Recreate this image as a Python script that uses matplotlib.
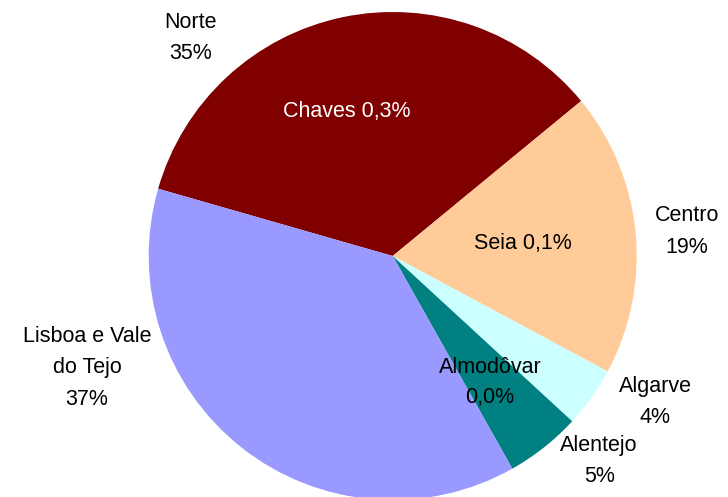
import matplotlib
matplotlib.use("Agg")
import matplotlib.pyplot as plt

plt.rcParams["font.family"] = ["Liberation Sans", "DejaVu Sans"]

regions = ["Norte", "Centro", "Algarve", "Alentejo", "Lisboa e Vale\ndo Tejo"]
shares = [34.6, 18.8, 4.0, 5.0, 37.6]
share_labels = ["35%", "19%", "4%", "5%", "37%"]
colors = ["#800000", "#FFCC99", "#CCFFFF", "#008080", "#9999FF"]

# municipalities shown inside the slices
towns = ["Chaves 0,3%", "Seia 0,1%", "Almodôvar\n0,0%"]
town_colors = ["white", "black", "black"]

W, H = 728, 497
cx, cy, R = 392.7, 256.0, 244.0

fig = plt.figure(figsize=(W / 100, H / 100), dpi=100)
ax = fig.add_axes([0, 0, 1, 1])
ax.pie(shares, colors=colors, startangle=164, counterclock=False,
       wedgeprops=dict(linewidth=0))
ax.set_xlim(-cx / R, (W - cx) / R)
ax.set_ylim(-(H - cy) / R, cy / R)
ax.axis("off")

label_pos = [(-0.827, 0.893), (1.206, 0.100), (1.075, -0.598),
             (0.846, -0.840), (-1.253, -0.459)]
for name, pct, (x, y) in zip(regions, share_labels, label_pos):
    ax.text(x, y, f"{name}\n{pct}", ha="center", va="center",
            fontsize=15.5, linespacing=1.65)

town_pos = [(-0.190, 0.591), (0.534, 0.053), (0.399, -0.520)]
for t, c, (x, y) in zip(towns, town_colors, town_pos):
    ax.text(x, y, t, ha="center", va="center", fontsize=15.5,
            color=c, linespacing=1.55)

fig.savefig("out.png", dpi=100)
